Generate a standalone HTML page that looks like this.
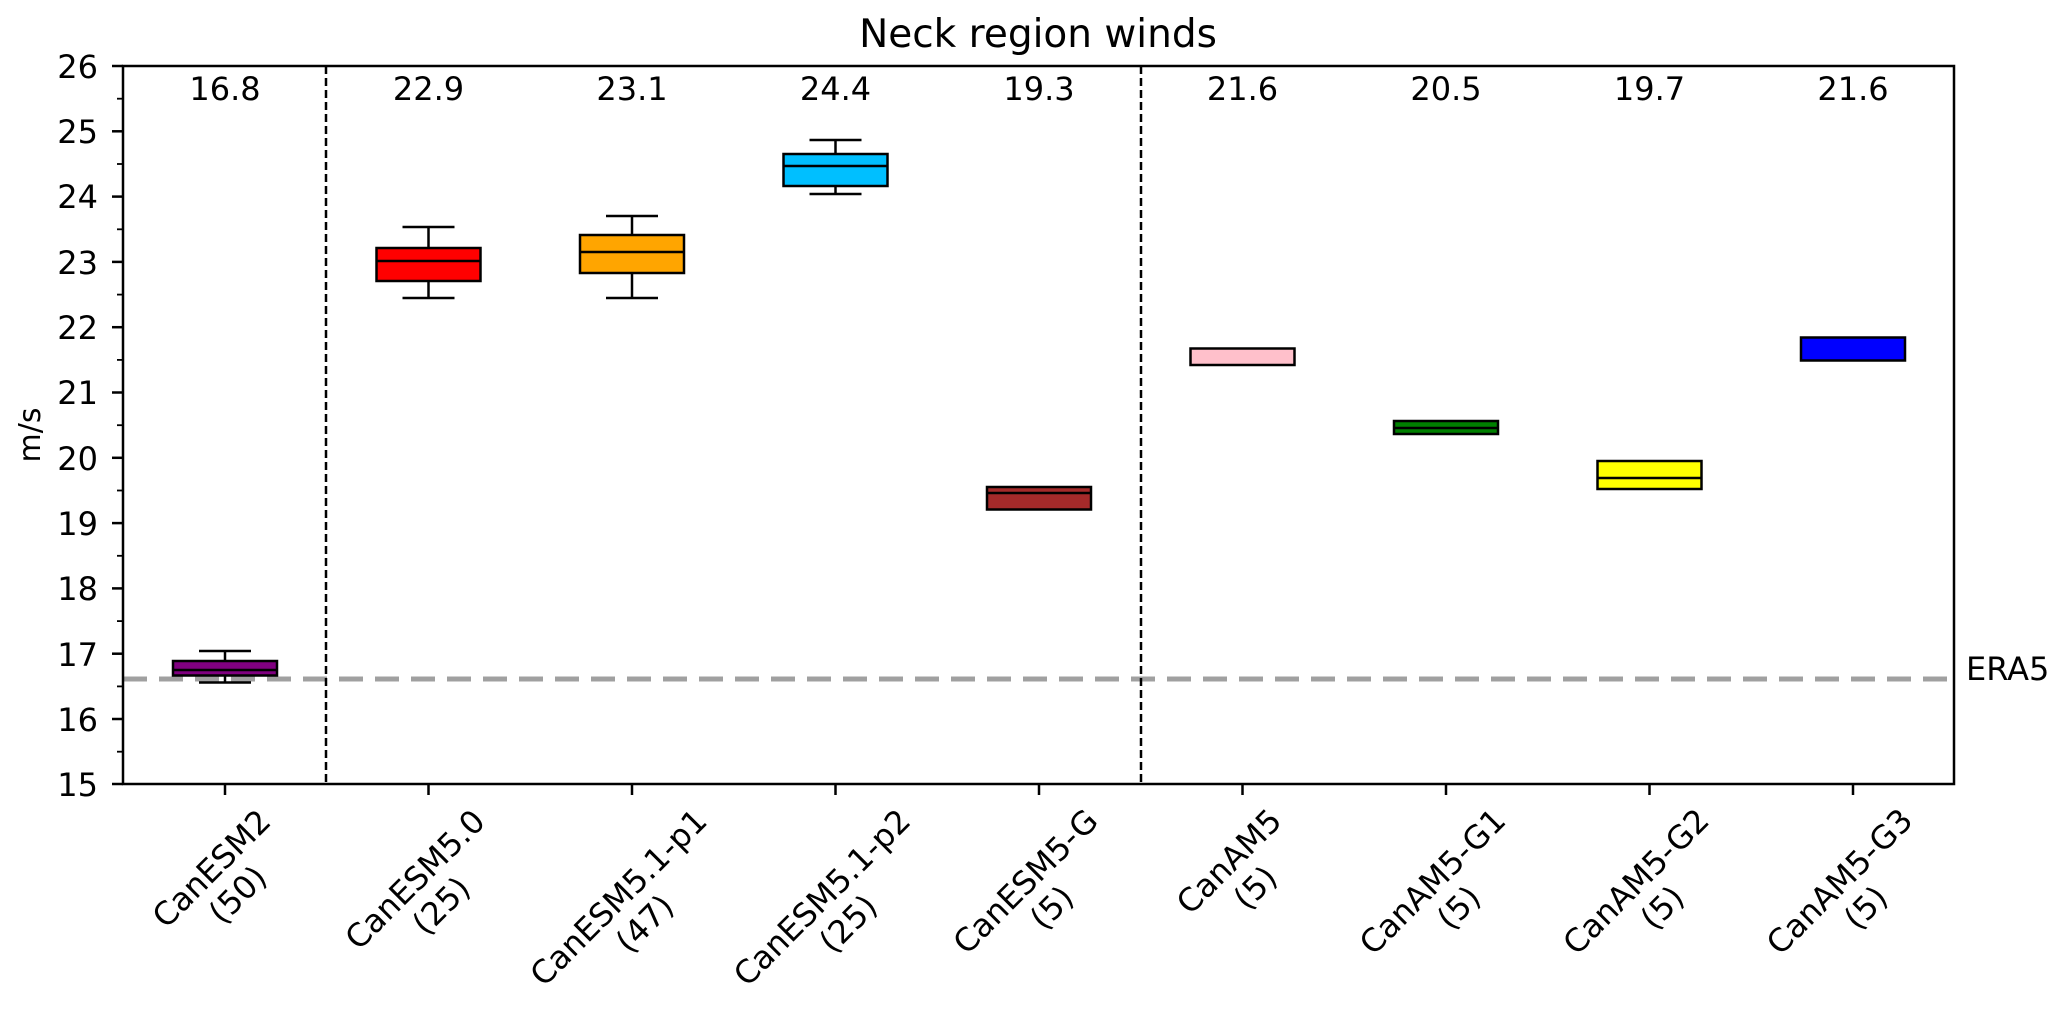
<!DOCTYPE html>
<html><head><meta charset="utf-8"><style>
html,body{margin:0;padding:0;background:#fff}
svg{display:block}
text{font-family:"DejaVu Sans","Liberation Sans",sans-serif;fill:#000}
</style></head><body>
<svg width="2067" height="1009" viewBox="0 0 2067 1009" xmlns="http://www.w3.org/2000/svg">
<rect width="2067" height="1009" fill="#fff"/>
<text x="1038" y="47" font-size="39" text-anchor="middle">Neck region winds</text>

<line x1="123" y1="679" x2="1954" y2="679" stroke="#a0a0a0" stroke-width="5" stroke-dasharray="24,12"/>
<text x="1966" y="680" font-size="32">ERA5</text>

<line x1="326" y1="66" x2="326" y2="784" stroke="#000" stroke-width="2.5" stroke-dasharray="8,4"/>
<line x1="1141" y1="66" x2="1141" y2="784" stroke="#000" stroke-width="2.5" stroke-dasharray="8,4"/>

<g stroke="#000" stroke-width="2.5">
<line x1="225" y1="651" x2="225" y2="661"/><line x1="225" y1="675.5" x2="225" y2="682.5"/>
<line x1="199" y1="651" x2="251" y2="651"/><line x1="199" y1="682.5" x2="251" y2="682.5"/>
<rect x="173" y="661" width="104" height="14.5" fill="#800080"/>
<line x1="173" y1="670" x2="277" y2="670"/>
<line x1="428.5" y1="227" x2="428.5" y2="248"/><line x1="428.5" y1="281" x2="428.5" y2="298"/>
<line x1="402.5" y1="227" x2="454.5" y2="227"/><line x1="402.5" y1="298" x2="454.5" y2="298"/>
<rect x="376.5" y="248" width="104" height="33" fill="#ff0000"/>
<line x1="376.5" y1="261" x2="480.5" y2="261"/>
<line x1="632" y1="216" x2="632" y2="235"/><line x1="632" y1="273" x2="632" y2="298"/>
<line x1="606" y1="216" x2="658" y2="216"/><line x1="606" y1="298" x2="658" y2="298"/>
<rect x="580" y="235" width="104" height="38" fill="#ffa500"/>
<line x1="580" y1="252" x2="684" y2="252"/>
<line x1="835.5" y1="140" x2="835.5" y2="154"/><line x1="835.5" y1="186" x2="835.5" y2="194"/>
<line x1="809.5" y1="140" x2="861.5" y2="140"/><line x1="809.5" y1="194" x2="861.5" y2="194"/>
<rect x="783.5" y="154" width="104" height="32" fill="#00bfff"/>
<line x1="783.5" y1="166" x2="887.5" y2="166"/>
<rect x="987" y="487" width="104" height="22.5" fill="#a52a2a"/>
<line x1="987" y1="493" x2="1091" y2="493"/>
<rect x="1190.5" y="348.5" width="104" height="16.5" fill="#ffc0cb"/>
<rect x="1394" y="421" width="104" height="13" fill="#008000"/>
<line x1="1394" y1="428" x2="1498" y2="428"/>
<rect x="1597.5" y="461" width="104" height="28" fill="#ffff00"/>
<line x1="1597.5" y1="478" x2="1701.5" y2="478"/>
<rect x="1801" y="337.5" width="104" height="23" fill="#0000ff"/>
</g>

<rect x="123" y="66" width="1831" height="718" fill="none" stroke="#000" stroke-width="2.5"/>

<g stroke="#000" stroke-width="2.5">
<line x1="112" y1="66" x2="123" y2="66"/><line x1="112" y1="131.3" x2="123" y2="131.3"/>
<line x1="112" y1="196.6" x2="123" y2="196.6"/><line x1="112" y1="261.9" x2="123" y2="261.9"/>
<line x1="112" y1="327.2" x2="123" y2="327.2"/><line x1="112" y1="392.5" x2="123" y2="392.5"/>
<line x1="112" y1="457.8" x2="123" y2="457.8"/><line x1="112" y1="523.1" x2="123" y2="523.1"/>
<line x1="112" y1="588.4" x2="123" y2="588.4"/><line x1="112" y1="653.7" x2="123" y2="653.7"/>
<line x1="112" y1="719" x2="123" y2="719"/><line x1="112" y1="784" x2="123" y2="784"/>
</g>
<g stroke="#000" stroke-width="1.8">
<line x1="117" y1="98.7" x2="123" y2="98.7"/><line x1="117" y1="164" x2="123" y2="164"/>
<line x1="117" y1="229.3" x2="123" y2="229.3"/><line x1="117" y1="294.6" x2="123" y2="294.6"/>
<line x1="117" y1="359.9" x2="123" y2="359.9"/><line x1="117" y1="425.2" x2="123" y2="425.2"/>
<line x1="117" y1="490.5" x2="123" y2="490.5"/><line x1="117" y1="555.8" x2="123" y2="555.8"/>
<line x1="117" y1="621.1" x2="123" y2="621.1"/><line x1="117" y1="686.4" x2="123" y2="686.4"/>
<line x1="117" y1="751.7" x2="123" y2="751.7"/>
</g>
<g font-size="32" text-anchor="end">
<text x="98" y="78">26</text><text x="98" y="143">25</text><text x="98" y="208">24</text>
<text x="98" y="274">23</text><text x="98" y="339">22</text><text x="98" y="404">21</text>
<text x="98" y="470">20</text><text x="98" y="535">19</text><text x="98" y="600">18</text>
<text x="98" y="666">17</text><text x="98" y="731">16</text><text x="98" y="796">15</text>
</g>
<text transform="translate(40,435) rotate(-90)" font-size="30" text-anchor="middle">m/s</text>

<g font-size="32" text-anchor="middle">
<text x="225" y="100">16.8</text><text x="428.5" y="100">22.9</text><text x="632" y="100">23.1</text>
<text x="835.5" y="100">24.4</text><text x="1039" y="100">19.3</text><text x="1242.5" y="100">21.6</text>
<text x="1446" y="100">20.5</text><text x="1649.5" y="100">19.7</text><text x="1853" y="100">21.6</text>
</g>

<g stroke="#000" stroke-width="2.5">
<line x1="225" y1="784" x2="225" y2="795"/><line x1="428.5" y1="784" x2="428.5" y2="795"/>
<line x1="632" y1="784" x2="632" y2="795"/><line x1="835.5" y1="784" x2="835.5" y2="795"/>
<line x1="1039" y1="784" x2="1039" y2="795"/><line x1="1242.5" y1="784" x2="1242.5" y2="795"/>
<line x1="1446" y1="784" x2="1446" y2="795"/><line x1="1649.5" y1="784" x2="1649.5" y2="795"/>
<line x1="1853" y1="784" x2="1853" y2="795"/>
</g>
<g font-size="32" text-anchor="middle">
<g transform="translate(225,882) rotate(-45)"><text y="-8">CanESM2</text><text y="29">(50)</text></g>
<g transform="translate(428.5,893) rotate(-45)"><text y="-8">CanESM5.0</text><text y="29">(25)</text></g>
<g transform="translate(632,911) rotate(-45)"><text y="-8">CanESM5.1-p1</text><text y="29">(47)</text></g>
<g transform="translate(835.5,911) rotate(-45)"><text y="-8">CanESM5.1-p2</text><text y="29">(25)</text></g>
<g transform="translate(1039,895) rotate(-45)"><text y="-8">CanESM5-G</text><text y="29">(5)</text></g>
<g transform="translate(1242.5,875) rotate(-45)"><text y="-8">CanAM5</text><text y="29">(5)</text></g>
<g transform="translate(1446,895) rotate(-45)"><text y="-8">CanAM5-G1</text><text y="29">(5)</text></g>
<g transform="translate(1649.5,895) rotate(-45)"><text y="-8">CanAM5-G2</text><text y="29">(5)</text></g>
<g transform="translate(1853,895) rotate(-45)"><text y="-8">CanAM5-G3</text><text y="29">(5)</text></g>
</g>
</svg>
</body></html>
